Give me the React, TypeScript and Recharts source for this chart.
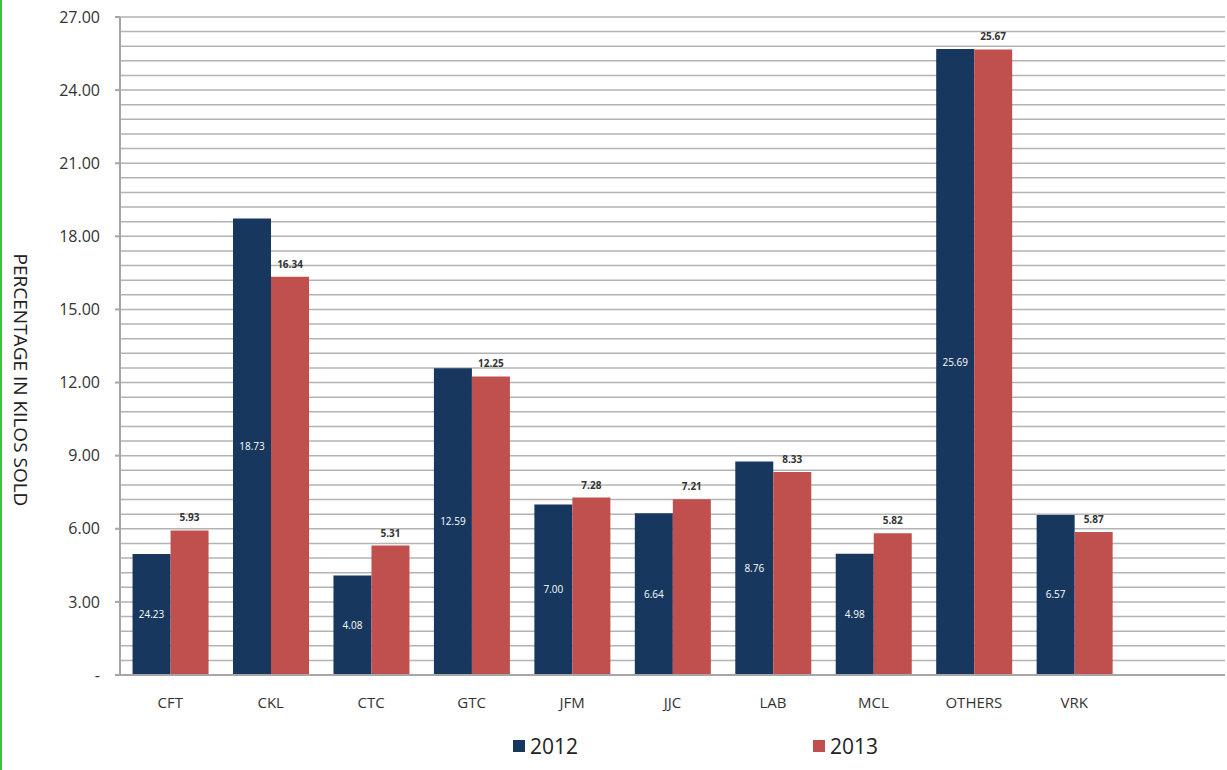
import { BarChart, Bar, XAxis, YAxis, CartesianGrid, LabelList } from 'recharts';

const categories = ['CFT', 'CKL', 'CTC', 'GTC', 'JFM', 'JJC', 'LAB', 'MCL', 'OTHERS', 'VRK', ''];
const values2012 = [4.96, 18.73, 4.08, 12.59, 7.0, 6.64, 8.76, 4.98, 25.69, 6.57, null];
const labels2012 = ['24.23', '18.73', '4.08', '12.59', '7.00', '6.64', '8.76', '4.98', '25.69', '6.57', ''];
const values2013 = [5.93, 16.34, 5.31, 12.25, 7.28, 7.21, 8.33, 5.82, 25.67, 5.87, null];
const yTicks = [0, 3, 6, 9, 12, 15, 18, 21, 24, 27];

const BLUE = '#17375E';
const RED = '#C0504D';
const FONT = '"Open Sans", sans-serif';

// minor gridlines every 0.6
const gridValues: number[] = [];
for (let i = 0; i <= 45; i++) gridValues.push(Math.round(i * 0.6 * 10) / 10);

const data = categories.map((name, i) => ({
  name,
  y2012: values2012[i],
  y2013: values2013[i],
  label2012: labels2012[i],
}));

const legendItems = [
  { label: '2012', color: BLUE, left: 513 },
  { label: '2013', color: RED, left: 813 },
];

export default function App() {
  return (
    <div style={{ position: 'absolute', left: 0, top: 0, width: 1227, height: 770, background: '#fff' }}>
      <div style={{ position: 'absolute', left: 0, top: 0, width: 2, height: 770, background: '#3CC33C' }} />
      <BarChart
        width={1227}
        height={770}
        data={data}
        margin={{ top: 17, right: 2, bottom: 65, left: 0 }}
        barCategoryGap="12.5%"
        barGap={0}
      >
        <CartesianGrid
          vertical={false}
          horizontalValues={gridValues}
          stroke="#B3B3B3"
          strokeWidth={1.5}
        />
        <XAxis
          dataKey="name"
          height={30}
          axisLine={{ stroke: '#A6A6A6', strokeWidth: 2 }}
          tickLine={false}
          tickSize={0}
          tickMargin={22}
          interval={0}
          tick={{ fontSize: 15, fill: '#333', fontFamily: FONT }}
        />
        <YAxis
          width={120}
          domain={[0, 27]}
          ticks={yTicks}
          interval={0}
          tickFormatter={(v: number) => (v === 0 ? '-' : v.toFixed(2))}
          axisLine={{ stroke: '#A6A6A6', strokeWidth: 2 }}
          tickLine={{ stroke: '#A6A6A6', strokeWidth: 2 }}
          tickSize={5}
          tickMargin={15}
          tick={{ fontSize: 16, fill: '#333', fontFamily: FONT }}
          label={{
            value: 'PERCENTAGE IN KILOS SOLD',
            angle: 90,
            position: 'insideLeft',
            dx: 16,
            dy: 34,
            style: { fontSize: 19, fill: '#222', fontFamily: FONT, textAnchor: 'middle' },
          }}
        />
        <Bar dataKey="y2012" name="2012" fill={BLUE} isAnimationActive={false}>
          <LabelList dataKey="label2012" position="center" fill="#fff" fontSize={10} fontFamily={FONT} />
        </Bar>
        <Bar dataKey="y2013" name="2013" fill={RED} isAnimationActive={false}>
          <LabelList
            dataKey="y2013"
            position="top"
            offset={9}
            fill="#333"
            fontSize={10}
            fontWeight="bold"
            fontFamily={FONT}
            formatter={(v: number) => (v == null ? '' : Number(v).toFixed(2))}
          />
        </Bar>
      </BarChart>
      {legendItems.map(item => (
        <div
          key={item.label}
          style={{
            position: 'absolute',
            left: item.left,
            top: 732,
            display: 'flex',
            alignItems: 'center',
            fontFamily: FONT,
          }}
        >
          <span style={{ width: 12, height: 12, background: item.color, display: 'inline-block', marginRight: 5 }} />
          <span style={{ fontSize: 21, color: '#222' }}>{item.label}</span>
        </div>
      ))}
    </div>
  );
}
